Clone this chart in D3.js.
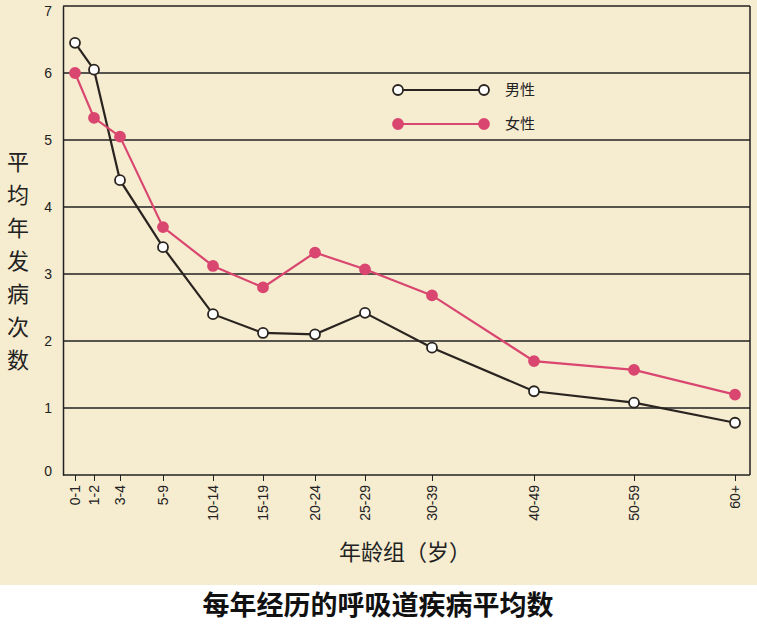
<!DOCTYPE html><html><head><meta charset="utf-8">
<script src="https://d3js.org/d3.v7.min.js"></script>
<style>body{margin:0;background:#fff}</style></head><body>
<script>
const categories=["0-1","1-2","3-4","5-9","10-14","15-19","20-24","25-29","30-39","40-49","50-59","60+"];
const xUnits=[0,1.9,4.5,8.8,13.8,18.8,24,29,35.7,45.9,55.9,66];
const male=[6.45,6.05,4.4,3.4,2.4,2.12,2.1,2.42,1.9,1.25,1.08,0.78];
const female=[6.0,5.33,5.05,3.7,3.12,2.8,3.32,3.07,2.68,1.7,1.57,1.2];
const yTicks=[0,1,2,3,4,5,6,7];
const W=757,H=630;
const svg=d3.select("body").append("svg").attr("width",W).attr("height",H).style("font-family","'Noto Sans CJK SC',sans-serif");
svg.append("rect").attr("width",W).attr("height",585).attr("fill","#f6ecd0");
const x=d3.scaleLinear().domain([0,66]).range([75,735]);
const y=d3.scaleLinear().domain([0,7]).range([475,6]);
svg.append("g").selectAll("line").data(yTicks.filter(d=>d>0)).join("line")
 .attr("x1",63).attr("x2",750).attr("y1",d=>y(d)).attr("y2",d=>y(d)).attr("stroke","#222").attr("stroke-width",1.5);
svg.append("line").attr("x1",750).attr("x2",750).attr("y1",6).attr("y2",475).attr("stroke","#222").attr("stroke-width",1.5);
const ya=svg.append("g").attr("transform","translate(63,0)").call(d3.axisLeft(y).tickValues(yTicks).tickFormat(d3.format("d")).tickSize(0).tickPadding(11));
ya.select(".domain").attr("stroke","#222").attr("stroke-width",1.5);
ya.selectAll("text").attr("font-size",14).attr("fill","#222").attr("font-family","Liberation Sans, sans-serif")
 .attr("dy",(d)=>d===7?"0.7em":d===0?"0em":"0.32em");
const xa=svg.append("g").attr("transform","translate(0,475)").call(d3.axisBottom(x).tickValues(xUnits).tickFormat((d,i)=>categories[i]).tickSize(6));
xa.select(".domain").attr("d","M63,0H750").attr("stroke","#222").attr("stroke-width",1.5);
xa.selectAll("line").attr("stroke","#222");
xa.selectAll("text").attr("font-size",14).attr("fill","#222").attr("font-family","Liberation Sans, sans-serif")
 .attr("transform","rotate(-90)").attr("text-anchor","end").attr("x",-10).attr("y",0).attr("dy","0.35em");
const line=d3.line().x((d,i)=>x(xUnits[i])).y(d=>y(d));
const series=[{v:male,c:"#2a2420",fill:"#fff"},{v:female,c:"#d9466f",fill:"#d9466f"}];
series.forEach(s=>{
 svg.append("path").attr("d",line(s.v)).attr("fill","none").attr("stroke",s.c).attr("stroke-width",2.2);
 svg.append("g").selectAll("circle").data(s.v).join("circle").attr("cx",(d,i)=>x(xUnits[i])).attr("cy",d=>y(d)).attr("r",5)
  .attr("fill",s.fill).attr("stroke",s.c).attr("stroke-width",1.8);
});
const leg=[["男性",series[0]],["女性",series[1]]];
leg.forEach(([t,s],i)=>{
 const yy=90+i*34;
 svg.append("line").attr("x1",398).attr("x2",484).attr("y1",yy).attr("y2",yy).attr("stroke",s.c).attr("stroke-width",2.2);
 [398,484].forEach(cx=>svg.append("circle").attr("cx",cx).attr("cy",yy).attr("r",5).attr("fill",s.fill).attr("stroke",s.c).attr("stroke-width",1.8));
 svg.append("text").attr("x",505).attr("y",yy+5).attr("font-size",15).attr("fill","#222").text(t);
});
"平均年发病次数".split("").forEach((ch,i)=>svg.append("text").attr("x",18).attr("y",170+i*33).attr("text-anchor","middle").attr("font-size",22).attr("fill","#222").text(ch));
svg.append("text").attr("x",405).attr("y",560).attr("text-anchor","middle").attr("font-size",22).attr("fill","#222").text("年龄组（岁）");
svg.append("text").attr("x",378).attr("y",615).attr("text-anchor","middle").attr("font-size",27).attr("font-weight","bold").attr("fill","#111").text("每年经历的呼吸道疾病平均数");
</script></body></html>
